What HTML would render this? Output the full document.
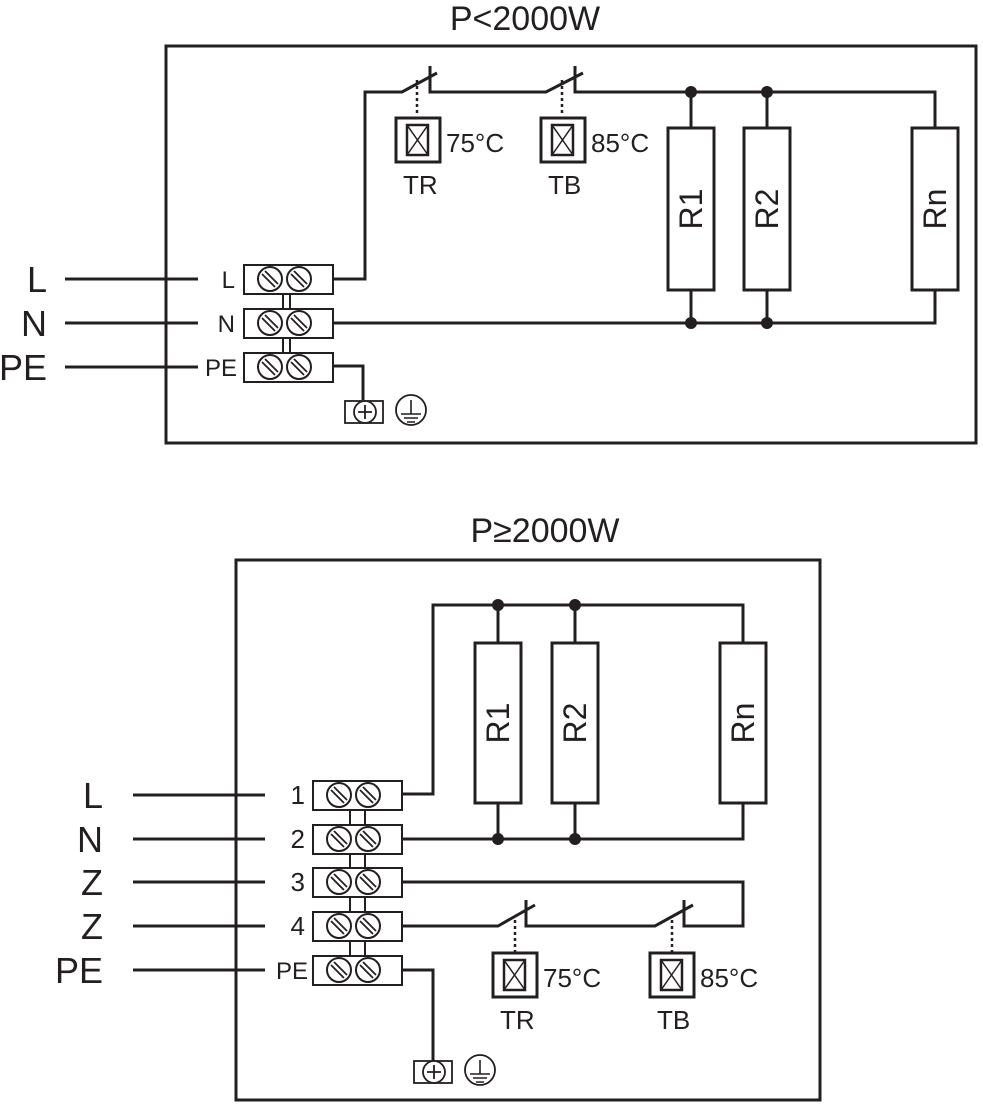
<!DOCTYPE html>
<html><head><meta charset="utf-8"><style>
html,body{margin:0;padding:0;background:#fff}
svg{display:block}
text{font-family:"Liberation Sans","DejaVu Sans",sans-serif;fill:#231f20}
</style></head><body>
<svg width="983" height="1106" viewBox="0 0 983 1106" xmlns="http://www.w3.org/2000/svg">
<defs>
<g id="scr">
<circle cx="0" cy="0" r="12" fill="#fff" stroke="#231f20" stroke-width="2"/>
<line x1="-8" y1="-5" x2="5" y2="8" stroke="#231f20" stroke-width="1.8"/>
<line x1="-5" y1="-8" x2="8" y2="5" stroke="#231f20" stroke-width="1.8"/>
</g>
<g id="term">
<rect x="0" y="-14" width="89" height="29" fill="#fff" stroke="#231f20" stroke-width="2"/>
<use href="#scr" x="26" y="0"/><use href="#scr" x="55" y="0"/>
</g>
<g id="therm">
<rect x="0" y="0" width="44" height="44" fill="#fff" stroke="#231f20" stroke-width="3"/>
<rect x="11" y="7" width="21" height="30" fill="none" stroke="#231f20" stroke-width="2.5"/>
<path d="M11 7 L32 37 M32 7 L11 37" stroke="#231f20" stroke-width="1.5"/>
</g>
<g id="gnd">
<rect x="-20" y="-11" width="38" height="22" fill="#fff" stroke="#231f20" stroke-width="1.8"/>
<circle cx="0" cy="0" r="11" fill="#fff" stroke="#231f20" stroke-width="1.8"/>
<path d="M-7 0 H7 M0 -7 V7" stroke="#231f20" stroke-width="1.8"/>
<circle cx="46" cy="-2" r="15" fill="#fff" stroke="#231f20" stroke-width="1.8"/>
<path d="M46 -12 V2 M36 2 H56 M39 6 H53 M42 10 H50" stroke="#231f20" stroke-width="1.6"/>
</g>
</defs>

<g stroke="#231f20" fill="none" stroke-width="3">
<rect x="166" y="46" width="810" height="397"/>
<path d="M65 279 H198 M65 323 H198 M65 367 H198"/>
<path d="M333 279 H365 V92 H402 L437 73 M430 66 V92 H546 L583 73 M575 66 V92 H935 V128"/>
<path d="M691 92 V128 M767 92 V128 M691 290 V323 M767 290 V323"/>
<path d="M333 323 H935 V290"/>
<path d="M333 366 H363 V400"/>
<rect x="668" y="128" width="46" height="162" fill="#fff"/>
<rect x="744" y="128" width="46" height="162" fill="#fff"/>
<rect x="912" y="128" width="46" height="162" fill="#fff"/>
<path d="M283 293 V308 M290 293 V308 M283 337 V352 M290 337 V352" stroke-width="2"/>
<path d="M417 80 V116 M562 80 V116" stroke-dasharray="3,3" stroke-width="2.5"/>

<rect x="236" y="560" width="584" height="540"/>
<path d="M133 795 H265 M133 839 H265 M133 882 H265 M133 926 H265 M133 970 H265"/>
<path d="M402 794 H433 V605 H743 V643"/>
<path d="M498 605 V643 M575 605 V643 M498 803 V839 M575 803 V839"/>
<path d="M402 839 H743 V803"/>
<path d="M402 882 H743 V926 H684 V900 M693 905 L655 926 H526 V900 M535 905 L498 926 H402"/>
<path d="M402 970 H433 V1062"/>
<rect x="475" y="643" width="46" height="160" fill="#fff"/>
<rect x="552" y="643" width="46" height="160" fill="#fff"/>
<rect x="720" y="643" width="46" height="160" fill="#fff"/>
<path d="M350 809 V824 M365 809 V824 M350 853 V868 M365 853 V868 M350 896 V911 M365 896 V911 M350 940 V955 M365 940 V955" stroke-width="2"/>
<path d="M515 920 V952 M672 920 V952" stroke-dasharray="3,3" stroke-width="2.5"/>
</g>
<g fill="#231f20">
<circle cx="691" cy="92" r="6"/><circle cx="767" cy="92" r="6"/>
<circle cx="691" cy="323" r="6"/><circle cx="767" cy="323" r="6"/>
<circle cx="498" cy="605" r="6"/><circle cx="575" cy="605" r="6"/>
<circle cx="498" cy="839" r="6"/><circle cx="575" cy="839" r="6"/>
</g>

<use href="#term" x="244" y="279"/><use href="#term" x="244" y="323"/><use href="#term" x="244" y="367"/>
<use href="#term" x="313" y="795"/><use href="#term" x="313" y="839"/><use href="#term" x="313" y="882"/><use href="#term" x="313" y="926"/><use href="#term" x="313" y="970"/>
<use href="#therm" x="396" y="118"/><use href="#therm" x="541" y="118"/>
<use href="#therm" x="493" y="953"/><use href="#therm" x="650" y="953"/>
<use href="#gnd" x="365" y="412"/>
<use href="#gnd" x="434" y="1072"/>

<text x="525" y="30" font-size="34" text-anchor="middle">P&lt;2000W</text>
<text x="545" y="542" font-size="34" text-anchor="middle">P≥2000W</text>
<text x="47" y="292" font-size="36" text-anchor="end">L</text>
<text x="47" y="336" font-size="36" text-anchor="end">N</text>
<text x="47" y="380" font-size="36" text-anchor="end">PE</text>
<text x="103" y="808" font-size="36" text-anchor="end">L</text>
<text x="103" y="852" font-size="36" text-anchor="end">N</text>
<text x="103" y="895" font-size="36" text-anchor="end">Z</text>
<text x="103" y="939" font-size="36" text-anchor="end">Z</text>
<text x="103" y="983" font-size="36" text-anchor="end">PE</text>

<text x="235" y="288" font-size="24" text-anchor="end">L</text>
<text x="235" y="332" font-size="24" text-anchor="end">N</text>
<text x="237" y="376" font-size="24" text-anchor="end">PE</text>
<text x="305" y="804" font-size="26" text-anchor="end">1</text>
<text x="305" y="848" font-size="26" text-anchor="end">2</text>
<text x="305" y="891" font-size="26" text-anchor="end">3</text>
<text x="305" y="935" font-size="26" text-anchor="end">4</text>
<text x="308" y="979" font-size="24" text-anchor="end">PE</text>

<text x="446" y="152" font-size="26">75°C</text><text x="591" y="152" font-size="26">85°C</text>
<text x="403" y="194" font-size="26">TR</text><text x="548" y="194" font-size="26">TB</text>
<text x="543" y="987" font-size="26">75°C</text><text x="700" y="987" font-size="26">85°C</text>
<text x="500" y="1029" font-size="26">TR</text><text x="657" y="1029" font-size="26">TB</text>

<text transform="translate(702,209) rotate(-90)" font-size="32" text-anchor="middle">R1</text>
<text transform="translate(778,209) rotate(-90)" font-size="32" text-anchor="middle">R2</text>
<text transform="translate(946,209) rotate(-90)" font-size="32" text-anchor="middle">Rn</text>
<text transform="translate(509,723) rotate(-90)" font-size="32" text-anchor="middle">R1</text>
<text transform="translate(586,723) rotate(-90)" font-size="32" text-anchor="middle">R2</text>
<text transform="translate(754,723) rotate(-90)" font-size="32" text-anchor="middle">Rn</text>
</svg>
</body></html>
